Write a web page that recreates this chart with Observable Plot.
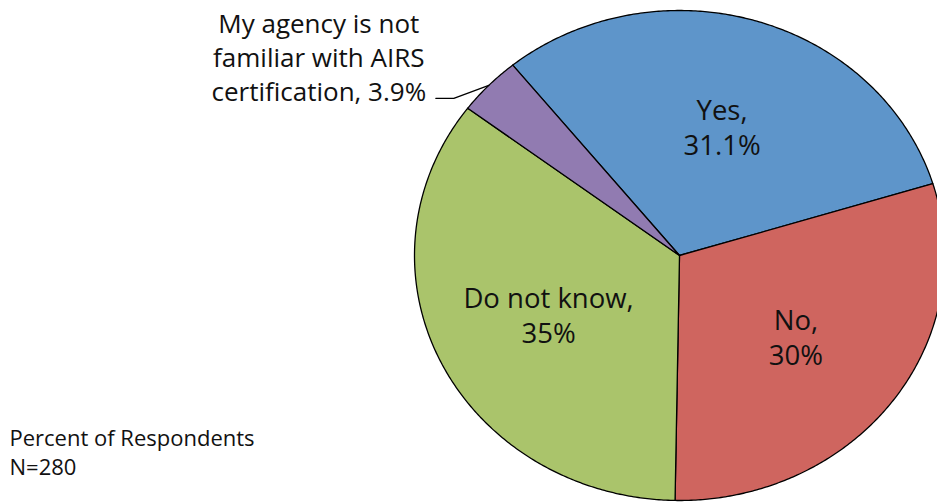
<!DOCTYPE html>
<html>
<head>
<meta charset="utf-8">
<script src="https://cdn.jsdelivr.net/npm/d3@7"></script>
<script src="https://cdn.jsdelivr.net/npm/@observablehq/plot@0.6"></script>
<style>
  html, body { margin: 0; padding: 0; background: #fff; }
  #chart { width: 937px; height: 502px; overflow: hidden; }
</style>
</head>
<body>
<div id="chart"></div>
<script>
// ---- data ----
const categories = ["Yes", "No", "Do not know", "My agency is not familiar with AIRS certification"];
const percents = [31.1, 30, 35, 3.9];
const sliceLabels = ["Yes,\n31.1%", "No,\n30%", "Do not know,\n35%", "My agency is not\nfamiliar with AIRS\ncertification, 3.9%"];
const colors = ["#5e95ca", "#cf655f", "#aac46b", "#917bb1"];
const captionLines = ["Percent of Respondents", "N=280"];

// ---- layout ----
const W = 937, H = 502;
const CX = 679, CY = 255, RX = 265, RY = 245;
const START_DEG = -39;
const LABEL_R = 0.55;

const arcs = d3.pie().sort(null).value(d => d.value)
  .startAngle(START_DEG * Math.PI / 180)
  .endAngle((START_DEG + 360) * Math.PI / 180)(
    categories.map((c, i) => ({cat: c, value: percents[i], label: sliceLabels[i]}))
  );

const polar = (a, r) => [r * Math.sin(a), r * Math.cos(a)];

const polys = [];
arcs.forEach(a => {
  polys.push({cat: a.data.cat, x: 0, y: 0});
  const n = Math.max(4, Math.ceil((a.endAngle - a.startAngle) / (Math.PI / 360)));
  for (let i = 0; i <= n; i++) {
    const t = a.startAngle + (a.endAngle - a.startAngle) * i / n;
    const [x, y] = polar(t, 1);
    polys.push({cat: a.data.cat, x, y});
  }
});

const mid = a => (a.startAngle + a.endAngle) / 2;
const inside = arcs.slice(0, 3).map(a => {
  const [x, y] = polar(mid(a), LABEL_R);
  return {x, y, text: a.data.label};
});

// outside label with leader for the small slice
const small = arcs[3];
const [ex, ey] = polar(mid(small), 1);
const elbow = [ex - 35 / RX, ey - 13 / RY];
const tail = [elbow[0] - 18 / RX, elbow[1]];
const leader = [
  {x: ex, y: ey}, {x: elbow[0], y: elbow[1]}, {x: tail[0], y: tail[1]}
];
const outside = [{x: elbow[0], y: elbow[1], text: small.data.label}];

const chart = Plot.plot({
  width: W, height: H, margin: 0,
  x: {domain: [-1, 1], range: [CX - RX, CX + RX], axis: null},
  y: {domain: [-1, 1], range: [CY + RY, CY - RY], axis: null},
  color: {domain: categories, range: colors},
  style: {fontFamily: "'Open Sans', sans-serif", background: "#fff"},
  marks: [
    Plot.line(polys, {x: "x", y: "y", z: "cat", fill: "cat", stroke: "#000", strokeWidth: 1.3, strokeLinejoin: "round", curve: "linear-closed"}),
    Plot.text(inside, {x: "x", y: "y", text: "text", fontSize: 27.5, lineHeight: 1.27, fill: "#111"}),
    Plot.line(leader, {x: "x", y: "y", stroke: "#000", strokeWidth: 1.3}),
    Plot.text(outside, {x: "x", y: "y", text: "text", fontSize: 26, lineHeight: 1.31, fill: "#111", dx: -135, dy: -42, textAnchor: "middle"}),
    Plot.text([captionLines.join("\n")], {frameAnchor: "bottom-left", text: d => d, fontSize: 22, lineHeight: 1.28, dx: 9, dy: -28, lineAnchor: "bottom", fill: "#111"})
  ]
});
document.getElementById("chart").appendChild(chart);
</script>
</body>
</html>
